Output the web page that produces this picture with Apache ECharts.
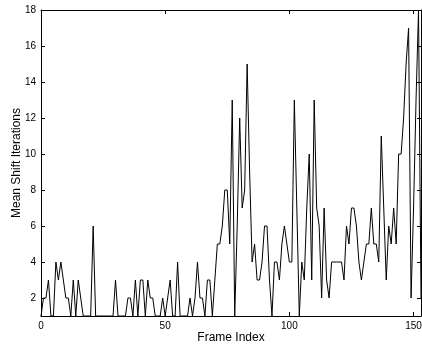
<!DOCTYPE html>
<html>
<head>
<meta charset="utf-8">
<script src="https://cdn.jsdelivr.net/npm/echarts@6/dist/echarts.min.js"></script>
<style>
  html, body { margin: 0; padding: 0; background: #fff; }
  #chart { width: 422px; height: 347px; }
</style>
</head>
<body>
<div id="chart"></div>
<script>
// mean shift iterations per frame, frames 0..153
const iterations = [
  1, 2, 2, 3, 1, 1, 4, 3, 4, 3, 2, 2, 1, 3, 1, 3, 2, 1, 1, 1,
  1, 6, 1, 1, 1, 1, 1, 1, 1, 1, 3, 1, 1, 1, 1, 2, 2, 1, 3, 1,
  3, 3, 1, 3, 2, 2, 1, 1, 1, 2, 1, 2, 3, 1, 1, 4, 1, 1, 1, 1,
  2, 1, 2, 4, 2, 2, 1, 3, 3, 1, 3, 5, 5, 6, 8, 8, 5, 13, 1, 6,
  12, 7, 8, 15, 9, 4, 5, 3, 3, 4, 6, 6, 3, 1, 4, 4, 3, 5, 6, 5,
  4, 4, 13, 7, 1, 4, 3, 7, 10, 3, 13, 7, 6, 2, 7, 3, 2, 4, 4, 4,
  4, 4, 3, 6, 5, 7, 7, 6, 4, 3, 4, 5, 5, 7, 5, 5, 4, 11, 7, 3,
  6, 5, 7, 5, 10, 10, 12, 15, 17, 2, 7, 13, 18, 2
];
const xTicks = [0, 50, 100, 150];
const yTicks = [2, 4, 6, 8, 10, 12, 14, 16, 18];

const font = "'Liberation Sans', Arial, Helvetica, sans-serif";
const black = "#000";

const chart = echarts.init(document.getElementById("chart"), null, { renderer: "canvas" });

const boxLine = { show: true, onZero: false, lineStyle: { color: black, width: 1 } };
const tickStyle = (values) => ({ show: true, inside: true, length: 4, customValues: values, lineStyle: { color: black, width: 1 } });

chart.setOption({
  animation: false,
  backgroundColor: "#fff",
  grid: { left: 41, right: 1, top: 10, bottom: 31, outerBoundsMode: "none", containLabel: false },
  xAxis: [
    {
      type: "value",
      min: 0,
      max: 153,
      position: "bottom",
      axisLine: boxLine,
      axisTick: tickStyle(xTicks),
      axisLabel: { customValues: xTicks, margin: 5, color: black, fontFamily: font, fontSize: 10 },
      splitLine: { show: false },
      name: "Frame Index",
      nameLocation: "middle",
      nameGap: 16,
      nameMoveOverlap: false,
      nameTextStyle: { color: black, fontFamily: font, fontSize: 12 },
    },
    {
      type: "value",
      min: 0,
      max: 153,
      position: "top",
      axisLine: boxLine,
      axisTick: tickStyle(xTicks),
      axisLabel: { show: false },
      splitLine: { show: false },
    },
  ],
  yAxis: [
    {
      type: "value",
      min: 1,
      max: 18,
      position: "left",
      axisLine: boxLine,
      axisTick: tickStyle(yTicks),
      axisLabel: { customValues: yTicks, margin: 5, color: black, fontFamily: font, fontSize: 10 },
      splitLine: { show: false },
      name: "Mean Shift Iterations",
      nameLocation: "middle",
      nameGap: 18,
      nameMoveOverlap: false,
      nameTextStyle: { color: black, fontFamily: font, fontSize: 12 },
    },
    {
      type: "value",
      min: 1,
      max: 18,
      position: "right",
      axisLine: boxLine,
      axisTick: tickStyle(yTicks),
      axisLabel: { show: false },
      splitLine: { show: false },
    },
  ],
  series: [
    {
      type: "line",
      xAxisIndex: 0,
      yAxisIndex: 0,
      showSymbol: false,
      lineStyle: { color: black, width: 1 },
      data: iterations.map((v, i) => [i, v]),
    },
  ],
});
</script>
</body>
</html>
